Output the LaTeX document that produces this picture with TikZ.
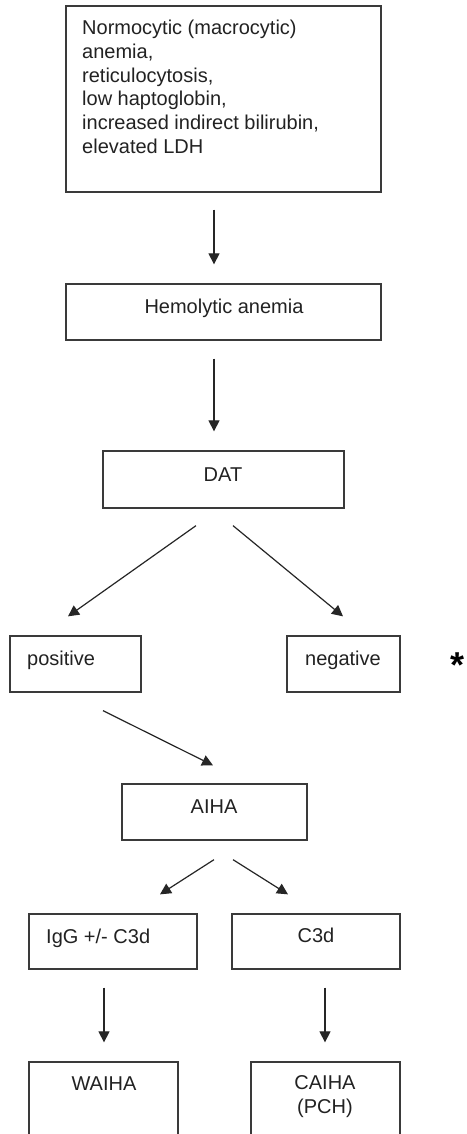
\documentclass[tikz,border=0pt]{standalone}
\usepackage{fontspec}
\setmainfont{Liberation Sans}
\usetikzlibrary{arrows.meta,calc}
\definecolor{linec}{HTML}{3A3A3A}
\definecolor{textc}{HTML}{222222}
\begin{document}
\begin{tikzpicture}[x=1pt,y=-1pt,
  box/.style={draw=linec,line width=1.3pt,inner sep=0pt,rectangle},
  txt/.style={text=textc,inner sep=0pt,font=\fontsize{20}{23.7}\selectfont},
  arr/.style={draw=black!85,line width=1.2pt,-{Triangle[length=11pt,width=11pt]}}]
\useasboundingbox (0,0) rectangle (466,1134);
\clip (0,0) rectangle (466,1134);
\fill[white] (0,0) rectangle (466,1134);
% boxes
\node[box,minimum width=315pt,minimum height=186pt] (b1) at (223.5,99) {};
\node[box,minimum width=315pt,minimum height=56pt] (b2) at (223.5,312) {};
\node[box,minimum width=241pt,minimum height=57pt] (dat) at (223.5,479.5) {};
\node[box,minimum width=131pt,minimum height=56pt] (pos) at (75.5,664) {};
\node[box,minimum width=113pt,minimum height=56pt] (neg) at (343.5,664) {};
\node[box,minimum width=185pt,minimum height=56pt] (aiha) at (214.5,812) {};
\node[box,minimum width=168pt,minimum height=55pt] (igg) at (113,941.5) {};
\node[box,minimum width=168pt,minimum height=55pt] (c3d) at (316,941.5) {};
\node[box,minimum width=149pt,minimum height=80pt] (waiha) at (103.5,1102) {};
\node[box,minimum width=149pt,minimum height=80pt] (caiha) at (325.5,1102) {};
% texts
\node[txt,align=left,anchor=north west] (t1) at (82,20) {Normocytic (macrocytic)\\anemia,\\reticulocytosis,\\low haptoglobin,\\increased indirect bilirubin,\\elevated LDH};
\node[txt,anchor=base] (t2) at (224,313) {Hemolytic anemia};
\node[txt,anchor=base] (t3) at (223,481) {DAT};
\node[txt,anchor=base west] (t4) at (27,665) {positive};
\node[txt,anchor=base] (t5) at (343,665) {negative};
\node[txt,anchor=base] (t6) at (214,813) {AIHA};
\node[txt,anchor=base west] (t7) at (46,943) {IgG +/- C3d};
\node[txt,anchor=base] (t8) at (316,942) {C3d};
\node[txt,anchor=base] (t9) at (104,1090) {WAIHA};
\node[txt,anchor=base] (t10) at (325,1089) {CAIHA};
\node[txt,anchor=base] (t11) at (325,1113) {(PCH)};
\node[anchor=base,inner sep=0pt,font=\fontsize{36}{36}\selectfont\bfseries] (ast) at (457,677) {*};
% arrows
\draw[arr] ($(b1.south)+(-9.5,17)$) -- ($(b2.north)+(-9.5,-19)$);
\draw[arr] ($(b2.south)+(-9.5,18)$) -- ($(dat.north)+(-9.5,-19)$);
\draw[arr] ($(dat.south)+(-27.5,17)$) -- ($(pos.north)+(-7.5,-19)$);
\draw[arr] ($(dat.south)+(9.5,17)$) -- ($(neg.north)+(-0.5,-19)$);
\draw[arr] ($(pos.south)+(27.5,18)$) -- ($(aiha.north)+(-1.5,-18)$);
\draw[arr] ($(aiha.south)+(-0.5,19)$) -- ($(igg.north)+(47,-19)$);
\draw[arr] ($(aiha.south)+(18.5,19)$) -- ($(c3d.north)+(-28,-19)$);
\draw[arr] ($(igg.south)+(-9,18)$) -- ($(waiha.north)+(0.5,-19)$);
\draw[arr] ($(c3d.south)+(9,18)$) -- ($(caiha.north)+(-0.5,-19)$);
\end{tikzpicture}
\end{document}
